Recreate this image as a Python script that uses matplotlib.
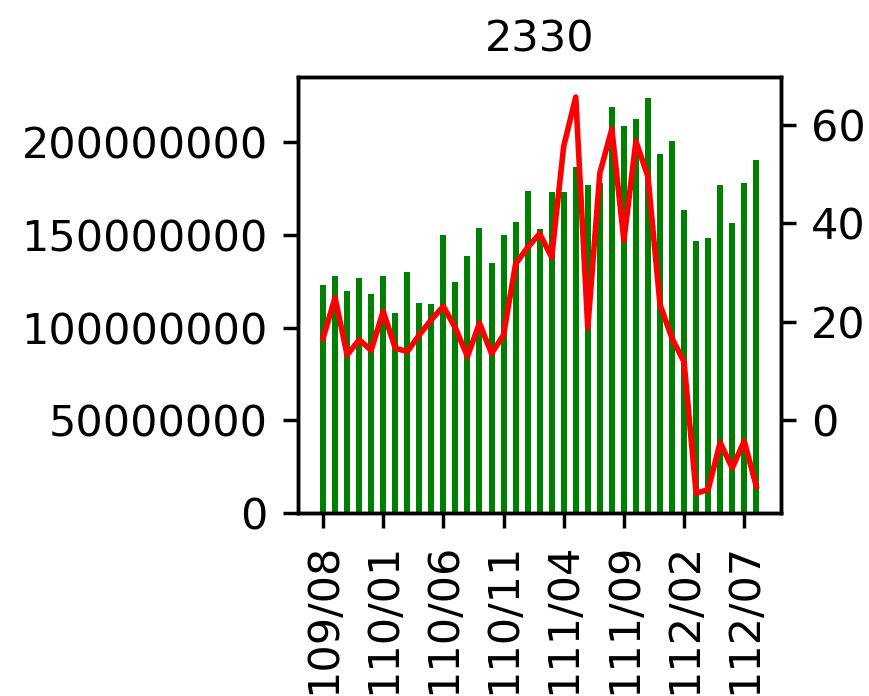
import matplotlib
matplotlib.use("Agg")
import matplotlib.pyplot as plt
import numpy as np

title = "2330"
months = ["109/08", "109/09", "109/10", "109/11", "109/12",
          "110/01", "110/02", "110/03", "110/04", "110/05", "110/06",
          "110/07", "110/08", "110/09", "110/10", "110/11", "110/12",
          "111/01", "111/02", "111/03", "111/04", "111/05", "111/06",
          "111/07", "111/08", "111/09", "111/10", "111/11", "111/12",
          "112/01", "112/02", "112/03", "112/04", "112/05", "112/06",
          "112/07", "112/08"]
volume = [123.0e6, 128.1e6, 120.0e6, 126.7e6, 118.2e6, 128.1e6, 107.9e6, 129.9e6,
          113.1e6, 112.8e6, 150.1e6, 124.8e6, 138.4e6, 153.8e6, 135.0e6, 150.1e6,
          157.0e6, 173.6e6, 153.0e6, 173.3e6, 173.0e6, 186.8e6, 176.9e6, 178.0e6,
          218.8e6, 208.8e6, 212.5e6, 223.9e6, 193.5e6, 200.7e6, 163.3e6, 146.7e6,
          148.3e6, 176.9e6, 156.6e6, 178.3e6, 190.4e6]
ratio = [16.6, 24.9, 13.2, 16.3, 14.2, 22.1, 14.6, 13.9, 17.3, 20.4, 23.1, 18.7,
         12.9, 19.7, 13.5, 17.3, 31.7, 35.1, 37.9, 33.1, 55.7, 65.7, 18.7, 50.2,
         59.2, 36.5, 56.7, 49.5, 23.5, 16.6, 11.8, -14.9, -14.2, -4.6, -9.8, -4.3,
         -13.5]
tick_step = 5

dpi = 310
fig = plt.figure(figsize=(869 / dpi, 696 / dpi), dpi=dpi)
ax = fig.add_axes([0.343, 0.263, 0.556, 0.626])
x = np.arange(len(months))
ax.bar(x, volume, width=0.5, color="green")
ax.ticklabel_format(axis="y", style="plain", useOffset=False)
ax.set_yticks([0, 50000000, 100000000, 150000000, 200000000])
ax.set_xticks(x[::tick_step])
ax.set_xticklabels(months[::tick_step], rotation=90)
ax.set_title(title, fontsize=10)

ax2 = ax.twinx()
ax2.plot(x, ratio, color="red", linewidth=1.3)
ax2.set_yticks([0, 20, 40, 60])

fig.savefig("out.png", dpi=dpi)
